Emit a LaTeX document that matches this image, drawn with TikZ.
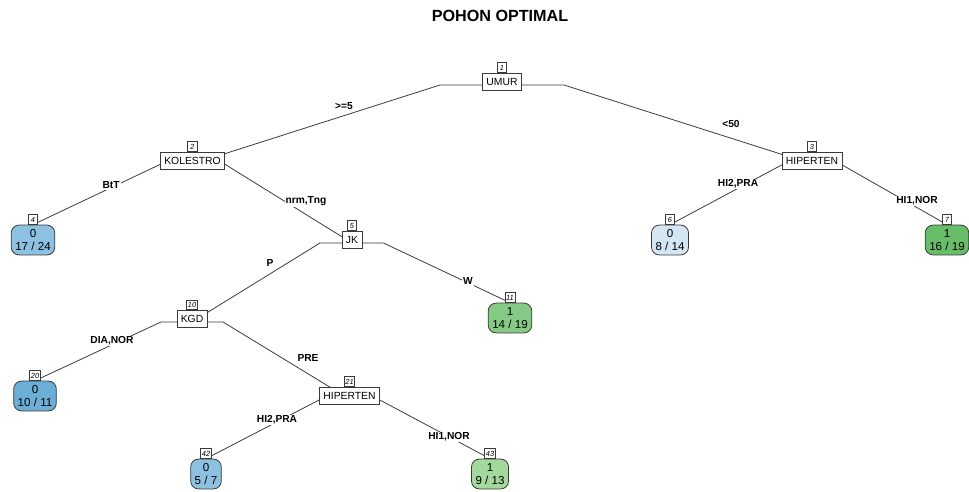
\documentclass[tikz,border=0pt]{standalone}
\usepackage{fontspec}
\setmainfont{Liberation Sans}
\usetikzlibrary{backgrounds}
\definecolor{bluedark}{HTML}{6BAED6}
\definecolor{bluemid}{HTML}{8CC1E1}
\definecolor{bluelight}{HTML}{D4E5F3}
\definecolor{greendark}{HTML}{68BD68}
\definecolor{greenmid}{HTML}{86CB85}
\definecolor{greenlight}{HTML}{A3D99C}
\definecolor{edgegray}{HTML}{3A3A3A}

\begin{document}
\begin{tikzpicture}[x=0.02cm, y=-0.02cm,
    split/.style={draw=edgegray, fill=white, line width=0.45pt, inner xsep=2.2pt, inner ysep=0pt,
      minimum height=9.6pt, text height=4.3pt, text depth=0pt, font=\fontsize{5.9}{7}\selectfont},
    leaf/.style={draw=edgegray, line width=0.45pt, rounded corners=4.5pt, inner xsep=2.3pt, inner ysep=1.6pt,
      minimum height=17pt, align=center, font=\fontsize{6.6}{7.6}\selectfont},
    nbox/.style={draw=edgegray, fill=white, line width=0.4pt, anchor=south, inner sep=0.6pt,
      minimum width=5.4pt, minimum height=5.4pt, text height=3pt, text depth=0pt,
      font=\fontsize{4.2}{4.5}\selectfont\itshape},
    elabel/.style={fill=white, inner sep=0.6pt, font=\fontsize{5.8}{7}\selectfont\bfseries},
    branch/.style={draw=edgegray, line width=0.45pt}]
  \useasboundingbox (0,0) rectangle (969,491);

  \node[font=\fontsize{9.2}{11}\selectfont\bfseries] (title) at (500,16) {POHON OPTIMAL};

  \node[split] (umur) at (502,81.5) {UMUR};
  \node[nbox] (n1) at (umur.north) {1};
  \node[split] (kol) at (192.5,160.5) {KOLESTRO};
  \node[nbox] (n2) at (kol.north) {2};
  \node[split] (hip3) at (812,160.5) {HIPERTEN};
  \node[nbox] (n3) at (hip3.north) {3};
  \node[split] (jk) at (352,239.5) {JK};
  \node[nbox] (n5) at (jk.north) {5};
  \node[split] (kgd) at (192,319) {KGD};
  \node[nbox] (n10) at (kgd.north) {10};
  \node[split] (hip21) at (349.5,395.5) {HIPERTEN};
  \node[nbox] (n21) at (hip21.north) {21};

  \node[leaf, fill=bluemid] (leaf4) at (33,240) {0\\17 / 24};
  \node[nbox] (n4) at (leaf4.north) {4};
  \node[leaf, fill=bluelight] (leaf6) at (670,240) {0\\8 / 14};
  \node[nbox] (n6) at (leaf6.north) {6};
  \node[leaf, fill=greendark] (leaf7) at (947,240) {1\\16 / 19};
  \node[nbox] (n7) at (leaf7.north) {7};
  \node[leaf, fill=greenmid] (leaf11) at (510,318) {1\\14 / 19};
  \node[nbox] (n11) at (leaf11.north) {11};
  \node[leaf, fill=bluedark] (leaf20) at (35,396) {0\\10 / 11};
  \node[nbox] (n20) at (leaf20.north) {20};
  \node[leaf, fill=bluemid] (leaf42) at (206,474) {0\\5 / 7};
  \node[nbox] (n42) at (leaf42.north) {42};
  \node[leaf, fill=greenlight] (leaf43) at (490,474) {1\\9 / 13};
  \node[nbox] (n43) at (leaf43.north) {43};

  \coordinate (umur-h) at (502,85);
  \coordinate (umur-l) at (440,85);
  \coordinate (umur-r) at (564,85);
  \coordinate (kol-h) at (192.5,164);
  \coordinate (kol-l) at (161,164);
  \coordinate (kol-r) at (224.5,164);
  \coordinate (hip3-h) at (812,164);
  \coordinate (hip3-l) at (783.5,164);
  \coordinate (hip3-r) at (840.5,164);
  \coordinate (jk-h) at (352,243);
  \coordinate (jk-l) at (320,243);
  \coordinate (jk-r) at (383.5,243);
  \coordinate (kgd-h) at (192,322);
  \coordinate (kgd-l) at (161,322);
  \coordinate (kgd-r) at (223,322);
  \coordinate (hip21-h) at (349.5,399);
  \coordinate (hip21-l) at (321,399);
  \coordinate (hip21-r) at (378,399);

  \begin{scope}[on background layer]
    \draw[branch] (umur-h) -- (umur-l) -- (kol-h);
    \draw[branch] (umur-h) -- (umur-r) -- (hip3-h);
    \draw[branch] (kol-h) -- (kol-l) -- (leaf4.north);
    \draw[branch] (kol-h) -- (kol-r) -- (jk-h);
    \draw[branch] (hip3-h) -- (hip3-l) -- (leaf6.north);
    \draw[branch] (hip3-h) -- (hip3-r) -- (leaf7.north);
    \draw[branch] (jk-h) -- (jk-l) -- (kgd-h);
    \draw[branch] (jk-h) -- (jk-r) -- (leaf11.north);
    \draw[branch] (kgd-h) -- (kgd-l) -- (leaf20.north);
    \draw[branch] (kgd-h) -- (kgd-r) -- (hip21-h);
    \draw[branch] (hip21-h) -- (hip21-l) -- (leaf42.north);
    \draw[branch] (hip21-h) -- (hip21-r) -- (leaf43.north);
  \end{scope}

  \node[elabel] (e-ge5) at (344,106) {>=5};
  \node[elabel] (e-lt50) at (731,124) {<50};
  \node[elabel] (e-btt) at (111,185) {BtT};
  \node[elabel] (e-nrm) at (306,201) {nrm,Tng};
  \node[elabel] (e-hi2a) at (738,184) {HI2,PRA};
  \node[elabel] (e-hi1a) at (917,201) {HI1,NOR};
  \node[elabel] (e-p) at (270,263) {P};
  \node[elabel] (e-w) at (468,281) {W};
  \node[elabel] (e-dia) at (112,341) {DIA,NOR};
  \node[elabel] (e-pre) at (308,358) {PRE};
  \node[elabel] (e-hi2b) at (277,420) {HI2,PRA};
  \node[elabel] (e-hi1b) at (449,437) {HI1,NOR};
\end{tikzpicture}
\end{document}
